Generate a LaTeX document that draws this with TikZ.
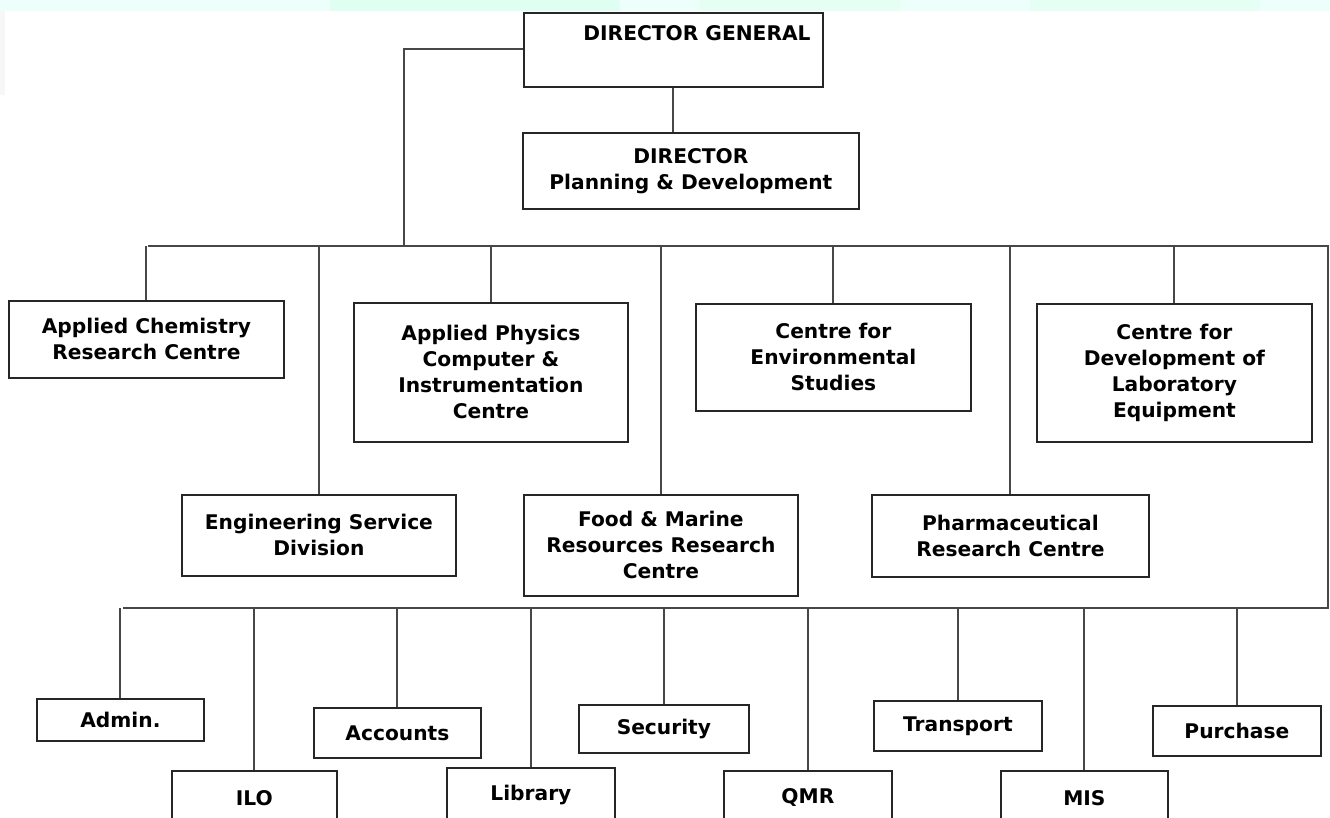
\documentclass[tikz,border=0pt]{standalone}
\usepackage{fontspec}
\setmainfont{DejaVu Sans}
\begin{document}
\begin{tikzpicture}[x=1pt,y=-1pt,
  orgbox/.style={draw=black!85, line width=1.8pt, fill=white, align=center,
    font=\bfseries\fontsize{20.2}{26}\selectfont, inner sep=0pt},
  link/.style={draw=black!72, line width=2pt}]
\clip (0,0) rectangle (1330,818);
\fill[white] (0,0) rectangle (1330,818);

% faded strip along the top edge
\fill[green!30!cyan!7] (0,0) rectangle (1330,11);
\fill[green!40!cyan!12] (330,0) rectangle (620,11);
\fill[green!40!cyan!10] (700,0) rectangle (900,11);
\fill[green!40!cyan!10] (1030,0) rectangle (1260,11);
\fill[black!3] (0,11) rectangle (5,95);

% boxes: top management
\node[orgbox, minimum width=299, minimum height=74, anchor=north west] (dg) at (523,12) {};
\node[font=\bfseries\fontsize{20.2}{26}\selectfont, anchor=center] (dgtext) at (697,33) {DIRECTOR GENERAL};
\node[orgbox, minimum width=336, minimum height=76, anchor=north west] (dpd) at (522,132) {DIRECTOR\\Planning \& Development};

% research centres, first row
\node[orgbox, minimum width=275, minimum height=77, anchor=north west] (ac) at (8,300) {Applied Chemistry\\Research Centre};
\node[orgbox, minimum width=274, minimum height=139, anchor=north west] (ap) at (353,302) {Applied Physics\\Computer \&\\Instrumentation\\Centre};
\node[orgbox, minimum width=275, minimum height=107, anchor=north west] (env) at (695,303) {Centre for\\Environmental\\Studies};
\node[orgbox, minimum width=275, minimum height=138, anchor=north west] (lab) at (1036,303) {Centre for\\Development of\\Laboratory\\Equipment};

% research centres, second row
\node[orgbox, minimum width=274, minimum height=81, anchor=north west] (eng) at (181,494) {Engineering Service\\Division};
\node[orgbox, minimum width=274, minimum height=101, anchor=north west] (food) at (523,494) {Food \& Marine\\Resources Research\\Centre};
\node[orgbox, minimum width=277, minimum height=82, anchor=north west] (pharma) at (871,494) {Pharmaceutical\\Research Centre};

% support units, upper staggered row
\node[orgbox, minimum width=167, minimum height=42, anchor=north west] (admin) at (36,698) {Admin.};
\node[orgbox, minimum width=167, minimum height=50, anchor=north west] (acc) at (313,707) {Accounts};
\node[orgbox, minimum width=170, minimum height=48, anchor=north west] (sec) at (578,704) {Security};
\node[orgbox, minimum width=168, minimum height=50, anchor=north west] (trans) at (873,700) {Transport};
\node[orgbox, minimum width=168, minimum height=50, anchor=north west] (pur) at (1152,705) {Purchase};

% support units, lower staggered row
\node[orgbox, minimum width=165, minimum height=54, anchor=north west] (ilo) at (171,770) {ILO};
\node[orgbox, minimum width=168, minimum height=54, anchor=north west] (lib) at (446,767) {Library};
\node[orgbox, minimum width=168, minimum height=54, anchor=north west] (qmr) at (723,770) {QMR};
\node[orgbox, minimum width=167, minimum height=54, anchor=north west] (mis) at (1000,770) {MIS};

% bus lines
\coordinate (dgtap) at (404,49);
\coordinate (busL) at (148,246);
\coordinate (busR) at (1328,246);
\coordinate (lowR) at (1328,608);
\coordinate (lowL) at (123,608);

\draw[link] (dg.west |- dgtap) -- (dgtap) -- (dgtap |- busL);
\draw[link] (dg.south) -- (dg.south |- dpd.north);
\draw[link] (busL) -- (busR) -- (lowR) -- (lowL);

% drops from the upper bus
\foreach \n in {ac,ap,env,lab,eng,food,pharma}
  \draw[link] (\n.north) -- (\n.north |- busL);

% drops from the lower bus
\foreach \n in {admin,acc,sec,trans,pur,ilo,lib,qmr,mis}
  \draw[link] (\n.north) -- (\n.north |- lowL);
\end{tikzpicture}
\end{document}
